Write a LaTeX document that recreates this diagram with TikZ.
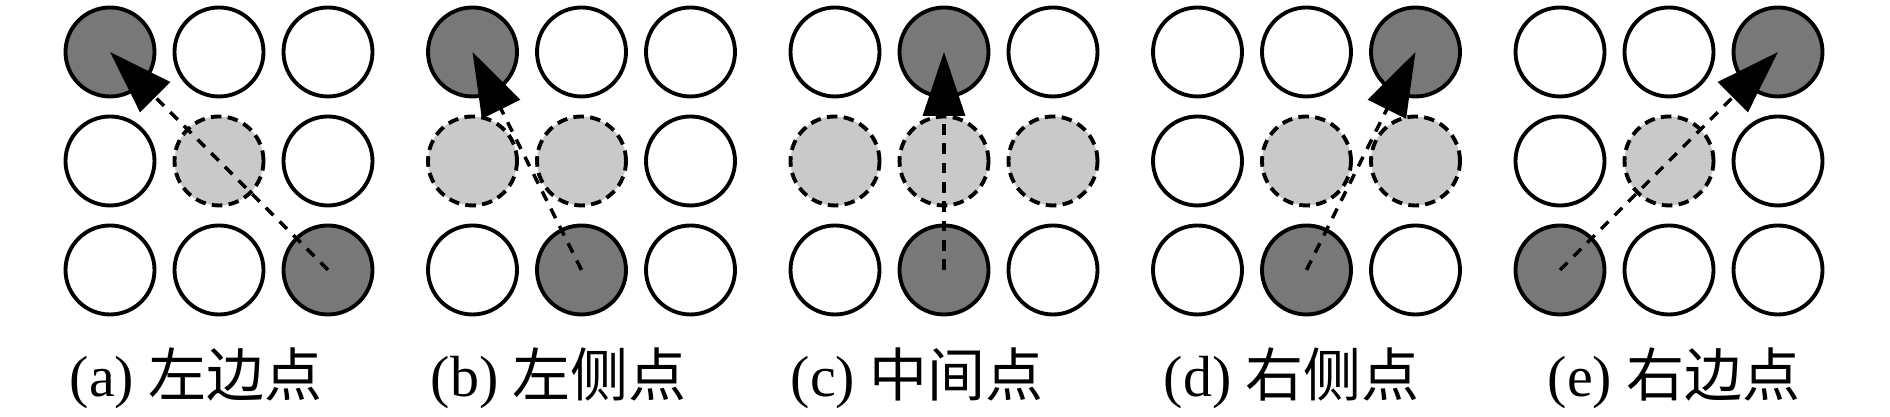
\documentclass[tikz,border=0pt]{standalone}
\usepackage{fontspec}
\setmainfont{Liberation Serif}
\newfontfamily\cjk{Noto Sans CJK SC}
\usetikzlibrary{arrows.meta}
\definecolor{darkdot}{gray}{0.47}
\definecolor{lightdot}{gray}{0.79}

\begin{document}
\begin{tikzpicture}[wh/.style={draw,circle,line width=1.1pt,minimum size=0.89cm,inner sep=0pt}, dk/.style={wh,fill=darkdot}, lt/.style={wh,fill=lightdot,dash pattern=on 3pt off 1.8pt}, conn/.style={line width=1pt,dash pattern=on 3pt off 2.5pt,-{Triangle[length=0.64cm,width=0.42cm]}}, captext/.style={anchor=base west,inner sep=0pt,font=\fontsize{16.5}{18}\selectfont}]
\useasboundingbox (0,0) rectangle (18.9,4.17);
\foreach \g/\capx/\cells/\txt [count=\k from 0] in {a/0.69/{dk,wh,wh,wh,lt,wh,wh,wh,dk}/左边点, b/4.30/{dk,wh,wh,lt,lt,wh,wh,dk,wh}/左侧点, c/7.90/{wh,dk,wh,lt,lt,lt,wh,dk,wh}/中间点, d/11.63/{wh,wh,dk,wh,lt,lt,wh,dk,wh}/右侧点, e/15.47/{wh,wh,dk,wh,lt,wh,dk,wh,wh}/右边点} {
  \foreach \s [count=\i from 0] in \cells {
    \pgfmathtruncatemacro\cx{mod(\i,3)}
    \pgfmathtruncatemacro\ry{div(\i,3)}
    \node[\s] (\g\cx\ry) at ({1.10+3.625*\k+1.09*\cx},{3.65-1.09*\ry}) {};
  }
  \node[captext] (cap\g) at (\capx,0.20) {(\g) {\cjk \txt}};
}
\draw[conn] (a22.center)--(a00.center);
\draw[conn] (b12.center)--(b00.center);
\draw[conn] (c12.center)--(c10.center);
\draw[conn] (d12.center)--(d20.center);
\draw[conn] (e02.center)--(e20.center);
\end{tikzpicture}
\end{document}
